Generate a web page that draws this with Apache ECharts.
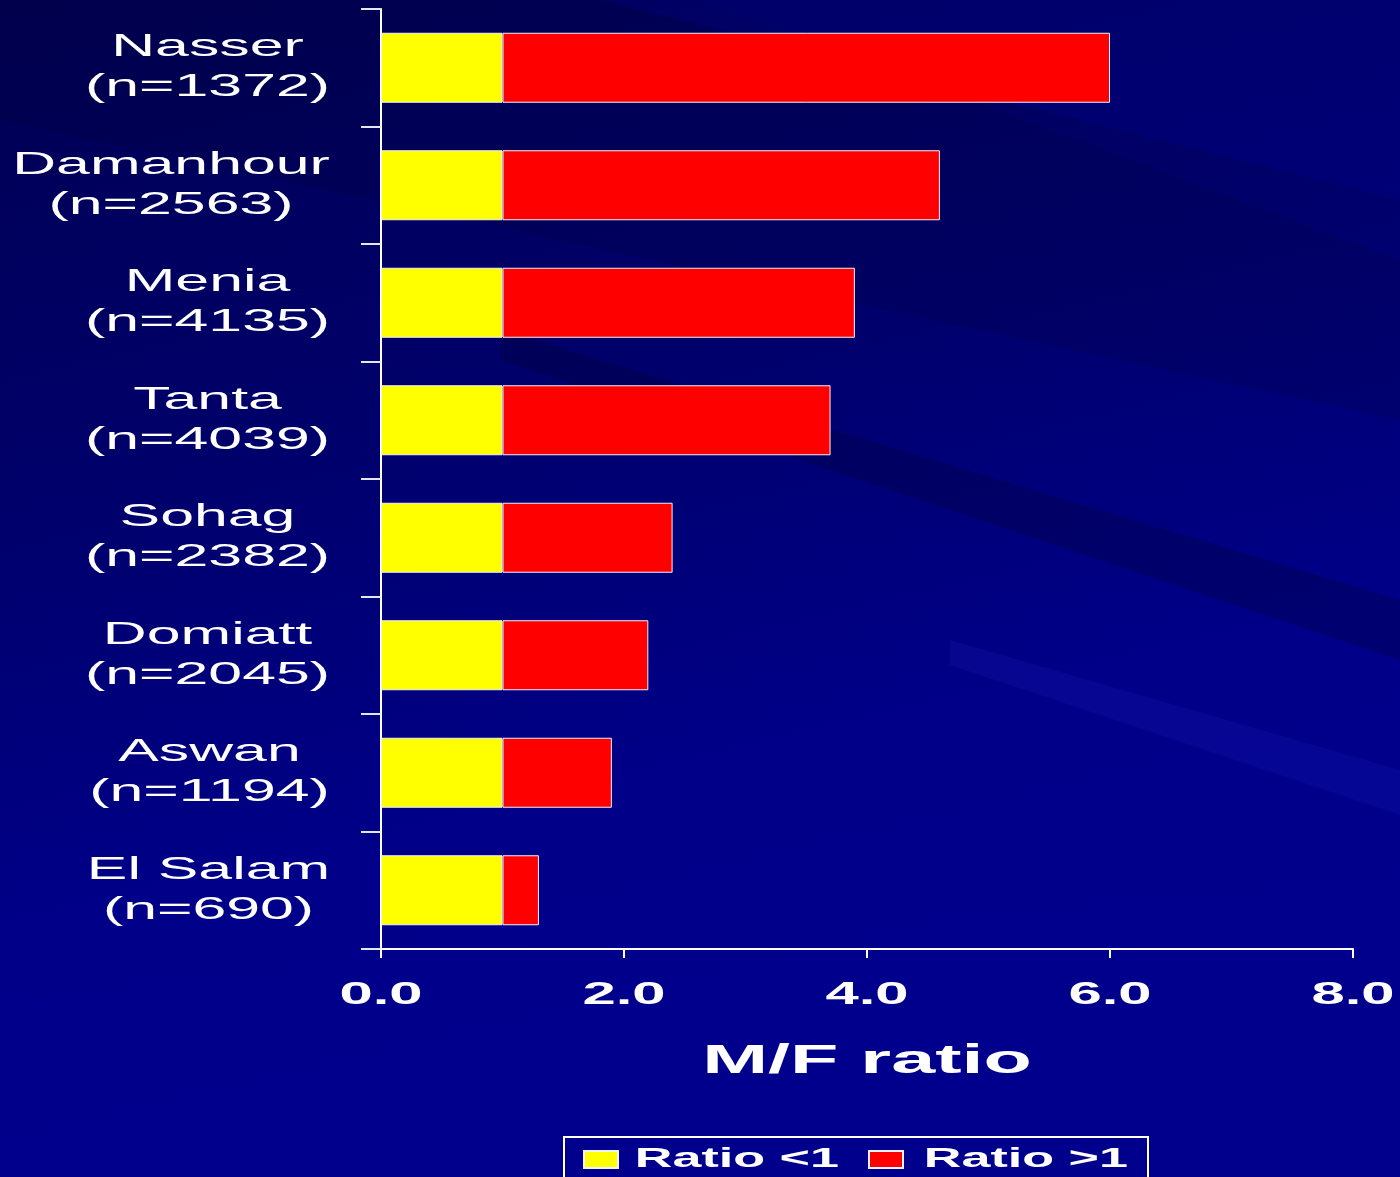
<!DOCTYPE html>
<html>
<head>
<meta charset="utf-8">
<script src="https://cdn.jsdelivr.net/npm/echarts@6/dist/echarts.min.js"></script>
<style>
  html, body { margin: 0; padding: 0; background: #00006e; }
  #chart { width: 1400px; height: 1177px; }
</style>
</head>
<body>
<div id="chart"></div>
<script>
// ---- data ----
const hospitals   = ['Nasser', 'Damanhour', 'Menia', 'Tanta', 'Sohag', 'Domiatt', 'Aswan', 'El Salam'];
const sampleSizes = [1372, 2563, 4135, 4039, 2382, 2045, 1194, 690];
const ratioBelow  = [1.0, 1.0, 1.0, 1.0, 1.0, 1.0, 1.0, 1.0];   // yellow segment
const ratioAbove  = [5.0, 3.6, 2.9, 2.7, 1.4, 1.2, 0.9, 0.3];   // red segment
const xTicks      = ['0.0', '2.0', '4.0', '6.0', '8.0'];
const seriesNames = ['Ratio <1', 'Ratio >1'];

// ---- the source slide's text is stretched horizontally ----
const S = 1.93;
const proto = CanvasRenderingContext2D.prototype;
const origFill = proto.fillText;
proto.fillText = function (t, x, y, mw) {
  this.save();
  this.translate(x, y);
  this.scale(S, 1);
  if (mw === undefined) origFill.call(this, t, 0, 0);
  else origFill.call(this, t, 0, 0, mw / S);
  this.restore();
};

const FONT = '"Liberation Sans", Arial, sans-serif';
const mctx = document.createElement('canvas').getContext('2d');
function measure(txt, size, weight) {
  mctx.font = (weight || 'normal') + ' ' + size + 'px ' + FONT;
  return mctx.measureText(txt).width;
}

// rich styles for category labels: lines centred in a block as wide as the widest (stretched) line
const yRich = {};
hospitals.forEach((h, i) => {
  const w = Math.max(measure(h, 31.5), measure('(n=' + sampleSizes[i] + ')', 31.5)) * S;
  yRich['c' + i] = { width: Math.round(w), align: 'center', fontSize: 31.5, lineHeight: 40,
                     color: '#ffffff', fontFamily: FONT };
});

// legend rich tokens (right aligned text, stretched from right anchor)
const legW = seriesNames.map(n => measure(n, 27, 'bold') * S);
const legRich = {
  l0: { width: Math.round(12 + legW[0]), align: 'right', fontSize: 27, fontWeight: 'bold',
        lineHeight: 30, color: '#ffffff', fontFamily: FONT },
  l1: { width: Math.round(16 + legW[1]), align: 'right', fontSize: 27, fontWeight: 'bold',
        lineHeight: 30, color: '#ffffff', fontFamily: FONT }
};

const chart = echarts.init(document.getElementById('chart'), null, { renderer: 'canvas' });

const option = {
  animation: false,
  backgroundColor: {
    type: 'linear', x: 0, y: 0, x2: 0.2, y2: 1,
    colorStops: [
      { offset: 0, color: '#000052' },
      { offset: 0.4, color: '#00006a' },
      { offset: 0.75, color: '#000088' },
      { offset: 1, color: '#00008c' }
    ]
  },
  graphic: [
    { type: 'polygon', z: -10, silent: true,
      shape: { points: [[0, 0], [700, 0], [1400, 260], [1400, 420], [0, 120]] },
      style: { fill: 'rgba(0,0,50,0.15)' } },
    { type: 'polygon', z: -10, silent: true,
      shape: { points: [[600, 0], [1400, 0], [1400, 200]] },
      style: { fill: 'rgba(0,0,150,0.25)' } },
    { type: 'polygon', z: -10, silent: true,
      shape: { points: [[500, 330], [1400, 600], [1400, 660], [500, 360]] },
      style: { fill: 'rgba(0,0,40,0.25)' } },
    { type: 'polygon', z: -10, silent: true,
      shape: { points: [[950, 640], [1400, 770], [1400, 815], [950, 665]] },
      style: { fill: 'rgba(50,50,220,0.12)' } },
    { type: 'polygon', z: -10, silent: true,
      shape: { points: [[0, 1000], [1400, 880], [1400, 1177], [0, 1177]] },
      style: { fill: 'rgba(0,0,150,0.12)' } }
  ],
  grid: { left: 381, right: 47, top: 9, bottom: 228, containLabel: false },
  legend: {
    data: seriesNames,
    left: 564, top: 1137,
    orient: 'horizontal',
    padding: [9, 20, 9, 19],
    itemGap: 29,
    icon: 'rect',
    itemWidth: 34, itemHeight: 17,
    borderColor: '#ffffff', borderWidth: 2,
    formatter: name => '{l' + seriesNames.indexOf(name) + '|' + name + '}',
    textStyle: { color: '#ffffff', rich: legRich }
  },
  xAxis: {
    type: 'value', min: 0, max: 8, interval: 2,
    name: 'M/F ratio', nameLocation: 'middle', nameGap: 92,
    nameTextStyle: { color: '#ffffff', fontSize: 41, fontWeight: 'bold', fontFamily: FONT },
    axisLine: { show: true, lineStyle: { color: '#ffffff', width: 2 } },
    axisTick: { show: true, length: 9, lineStyle: { color: '#ffffff', width: 2 } },
    splitLine: { show: false },
    axisLabel: {
      margin: 31, color: '#ffffff', fontSize: 31, fontWeight: 'bold', fontFamily: FONT,
      formatter: v => xTicks[Math.round(v / 2)]
    }
  },
  yAxis: {
    type: 'category', inverse: true, data: hospitals,
    axisLine: { show: true, lineStyle: { color: '#ffffff', width: 2 } },
    axisTick: { show: true, length: 20, interval: 0, lineStyle: { color: '#e6e6f0', width: 2 } },
    splitLine: { show: false },
    axisLabel: {
      margin: 51, interval: 0, align: 'right',
      formatter: (v, i) => '{c' + i + '|' + v + '}\n{c' + i + '|(n=' + sampleSizes[i] + ')}',
      rich: yRich
    }
  },
  series: [
    { name: seriesNames[0], type: 'bar', stack: 'mf', barWidth: 70, data: ratioBelow,
      itemStyle: { color: '#ffff00', borderColor: '#f0f0ff', borderWidth: 1 } },
    { name: seriesNames[1], type: 'bar', stack: 'mf', barWidth: 70, data: ratioAbove,
      itemStyle: { color: '#ff0000', borderColor: '#f0f0ff', borderWidth: 1 } }
  ]
};
chart.setOption(option);
</script>
</body>
</html>
